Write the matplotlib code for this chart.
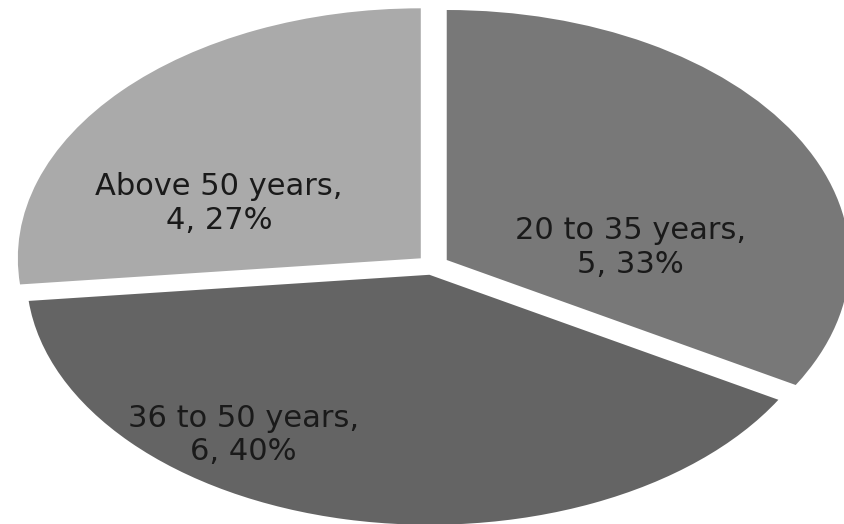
import matplotlib.pyplot as plt

groups = ["20 to 35 years", "36 to 50 years", "Above 50 years"]
counts = [5, 6, 4]
shares = [33, 40, 27]
colors = ["#787878", "#646464", "#aaaaaa"]

# where the data labels sit (data coords, pie radius = 1)
label_pos = [(0.49, 0.07), (-0.47, -0.68), (-0.53, 0.245)]

fig = plt.figure(figsize=(8.45, 5.24), dpi=100)
ax = fig.add_axes([0, 0, 1, 1])

wedges, _ = ax.pie(counts, colors=colors, startangle=90, counterclock=False,
                   explode=[0.04, 0.04, 0.04], radius=1.0,
                   wedgeprops=dict(linewidth=0))

for g, c, s, (x, y) in zip(groups, counts, shares, label_pos):
    ax.text(x, y, f"{g},\n{c}, {s}%", ha="center", va="center",
            fontsize=22, color="#1a1a1a", family="DejaVu Sans",
            linespacing=1.2)

ax.set_aspect("auto")
ax.set_xlim(-1.074, 1.023)
ax.set_ylim(-1.036, 1.060)
ax.axis("off")

fig.savefig("out.png", dpi=100)
